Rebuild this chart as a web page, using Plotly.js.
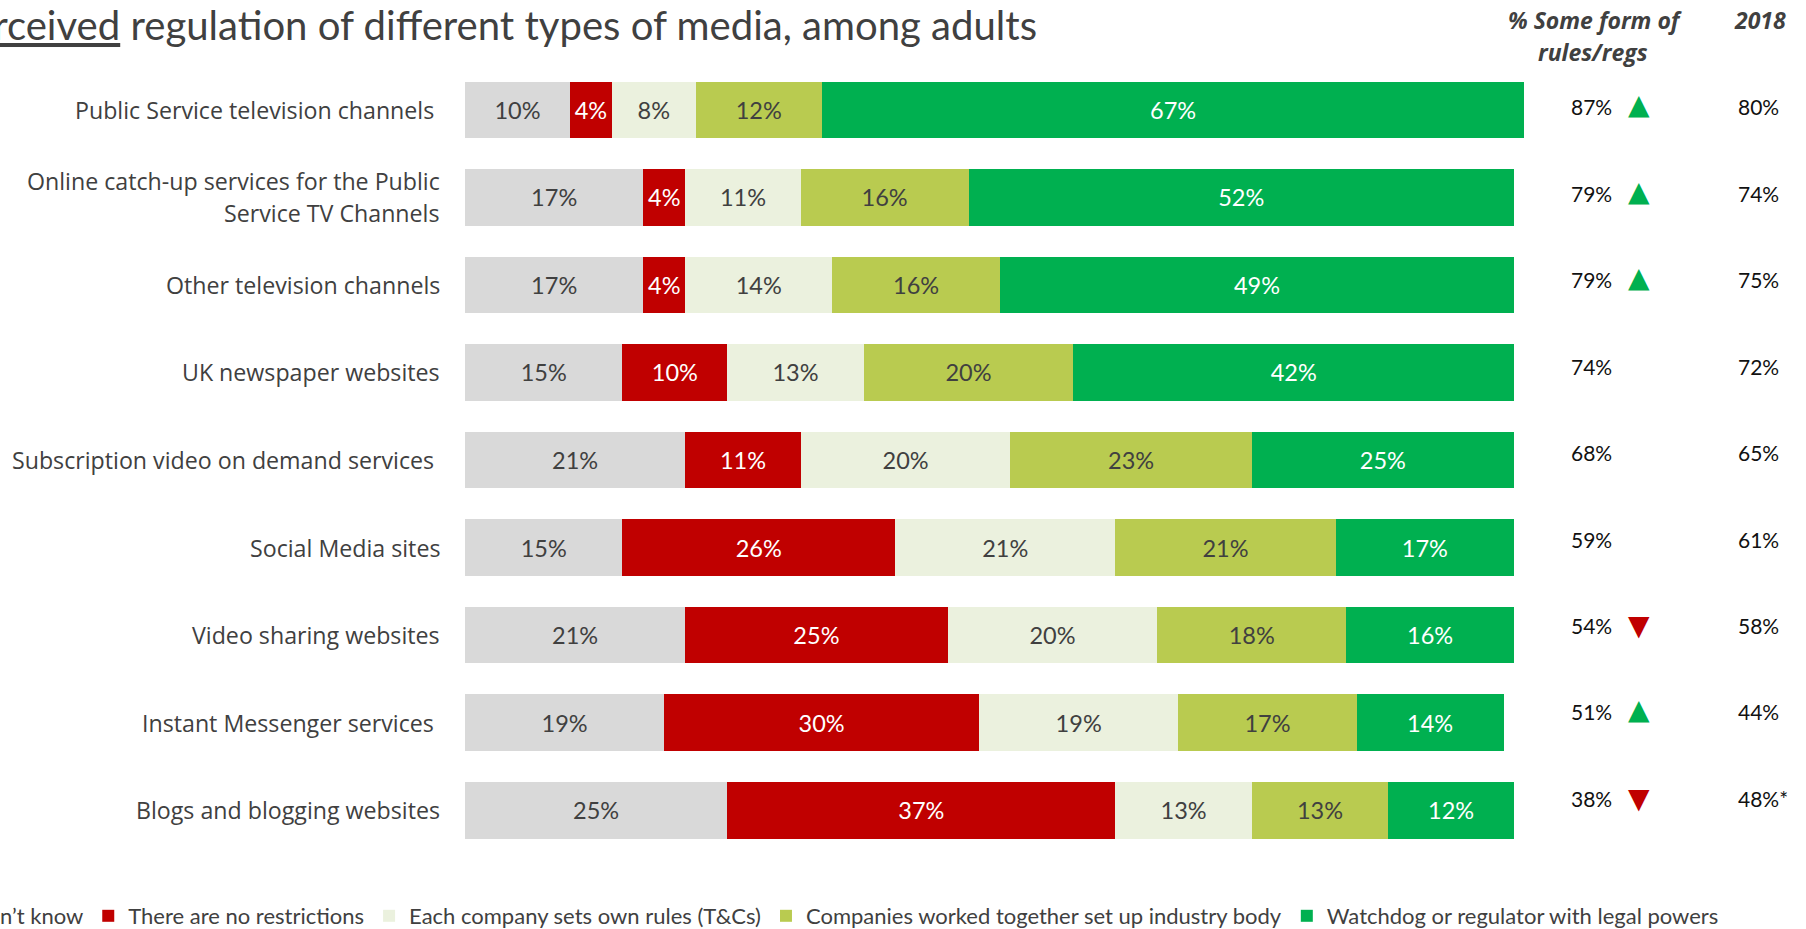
<!DOCTYPE html>
<html><head><meta charset="utf-8">
<script src="https://cdn.plot.ly/plotly-3.0.1.min.js"></script>
<style>html,body{margin:0;padding:0;background:#fff;overflow:hidden}#chart{width:1806px;height:929px;}</style>
</head><body><div id="chart"></div>
<script>
// ---------- data ----------
const categories = [
  "Public Service television channels\u00a0",
  "Online catch-up services for the Public<br>Service TV Channels",
  "Other television channels",
  "UK newspaper websites",
  "Subscription video on demand services\u00a0",
  "Social Media sites",
  "Video sharing websites",
  "Instant Messenger services\u00a0",
  "Blogs and blogging websites"
];
const seriesNames = [
  "Don’t know",
  "There are no restrictions",
  "Each company sets own rules (T&Cs)",
  "Companies worked together set up industry body",
  "Watchdog or regulator with legal powers"
];
const dontKnow       = [10, 17, 17, 15, 21, 15, 21, 19, 25];
const noRestrictions = [ 4,  4,  4, 10, 11, 26, 25, 30, 37];
const ownRules       = [ 8, 11, 14, 13, 20, 21, 20, 19, 13];
const industryBody   = [12, 16, 16, 20, 23, 21, 18, 17, 13];
const watchdog       = [67, 52, 49, 42, 25, 17, 16, 14, 12];
const someFormRegs   = [87, 79, 79, 74, 68, 59, 54, 51, 38];
const labels2018     = ["80%", "74%", "75%", "72%", "65%", "61%", "58%", "44%", "48%*"];
const changeVs2018   = ["up", "up", "up", "", "", "", "down", "up", "down"];
const headerSomeForm = ["% Some form of", "rules/regs"];
const header2018     = "2018";
const titleText      = "<u>Perceived</u> regulation of different types of media, among adults";

// ---------- styling ----------
const W = 1806, H = 929;
const M = {l: 465, r: 0, t: 66, b: 75};
const plotW = W - M.l - M.r, plotH = H - M.t - M.b;
const PX_PER_PCT = 10.49;
const colors = ["#D9D9D9", "#C00000", "#EBF1DE", "#B9CB50", "#00B050"];
const textColors = ["#404040", "#FFFFFF", "#404040", "#404040", "#FFFFFF"];
const seriesValues = [dontKnow, noRestrictions, ownRules, industryBody, watchdog];
const px2paperX = p => (p - M.l) / plotW;
const px2paperY = p => (M.t + plotH - p) / plotH;
const GREY = "#404040";

const traces = seriesValues.map((vals, i) => ({
  type: "bar",
  orientation: "h",
  name: seriesNames[i],
  y: categories,
  x: vals,
  marker: {color: colors[i], line: {width: 0}},
  texttemplate: "%{x}%",
  textposition: "inside",
  insidetextanchor: "middle",
  textangle: 0,
  insidetextfont: {family: "Lato, sans-serif", size: 23.5, color: textColors[i]},
  hoverinfo: "skip"
}));

const annotations = [];
// category labels (centred multi-line)
categories.forEach((c) => {
  const lines = c.split("<br>");
  lines.forEach((ln, k) => {
    annotations.push({
      xref: "paper", yref: "y", x: 0, y: c, xanchor: "right", yanchor: "middle",
      xshift: -23, yshift: ((lines.length - 1) / 2 - k) * 32,
      text: ln, showarrow: false, align: "center",
      font: {family: "Open Sans, sans-serif", size: 23.2, color: GREY}
    });
  });
});
// right-hand columns
categories.forEach((c, i) => {
  const ys = 3 + i * 1.1;
  annotations.push({
    xref: "paper", yref: "y", x: px2paperX(1569), y: c, xanchor: "left", yanchor: "middle",
    yshift: ys, text: someFormRegs[i] + "%", showarrow: false,
    font: {family: "Lato, sans-serif", size: 21, color: "#111111"}
  });
  annotations.push({
    xref: "paper", yref: "y", x: px2paperX(1736), y: c, xanchor: "left", yanchor: "middle",
    yshift: ys, text: labels2018[i], showarrow: false,
    font: {family: "Lato, sans-serif", size: 21, color: "#111111"}
  });
  if (changeVs2018[i]) {
    const up = changeVs2018[i] === "up";
    annotations.push({
      xref: "paper", yref: "y", x: px2paperX(1639), y: c, xanchor: "center", yanchor: "middle",
      yshift: ys + (up ? 2 : 0), text: up ? "▲" : "▼", showarrow: false,
      font: {family: "DejaVu Sans, sans-serif", size: 28, color: up ? "#00B050" : "#C00000"}
    });
  }
});
// headers
const hdrFont = {family: "Open Sans, sans-serif", size: 23, color: GREY};
annotations.push({xref: "paper", yref: "paper", x: px2paperX(1595), y: px2paperY(20), xanchor: "center", yanchor: "middle",
  text: "<b><i>" + headerSomeForm[0] + "</i></b>", showarrow: false, font: hdrFont});
annotations.push({xref: "paper", yref: "paper", x: px2paperX(1593), y: px2paperY(52), xanchor: "center", yanchor: "middle",
  text: "<b><i>" + headerSomeForm[1] + "</i></b>", showarrow: false, font: hdrFont});
annotations.push({xref: "paper", yref: "paper", x: px2paperX(1760), y: px2paperY(20), xanchor: "center", yanchor: "middle",
  text: "<b><i>" + header2018 + "</i></b>", showarrow: false, font: hdrFont});
// title (cut off at the left edge as in the source slide)
annotations.push({xref: "paper", yref: "paper", x: px2paperX(1039), y: px2paperY(24), xanchor: "right", yanchor: "middle",
  text: titleText, showarrow: false, font: {family: "Lato, sans-serif", size: 40.1, color: GREY}});

const layout = {
  width: W, height: H,
  margin: {l: M.l, r: M.r, t: M.t, b: M.b, pad: 0, autoexpand: false},
  paper_bgcolor: "#FFFFFF", plot_bgcolor: "#FFFFFF",
  barmode: "stack",
  bargap: 0.354,
  showlegend: true,
  legend: {
    orientation: "h", traceorder: "normal",
    x: px2paperX(-69), xanchor: "left",
    y: px2paperY(916), yanchor: "middle",
    font: {family: "Lato, sans-serif", size: 22, color: GREY},
    itemclick: false, itemdoubleclick: false, bgcolor: "rgba(0,0,0,0)"
  },
  xaxis: {range: [0, plotW / PX_PER_PCT], visible: false, fixedrange: true},
  yaxis: {type: "category", autorange: "reversed", showticklabels: false, showgrid: false,
          zeroline: false, showline: false, ticks: "", fixedrange: true},
  annotations: annotations,
  hovermode: false
};

Plotly.newPlot("chart", traces, layout, {displayModeBar: false, staticPlot: true});
</script>
</body></html>
